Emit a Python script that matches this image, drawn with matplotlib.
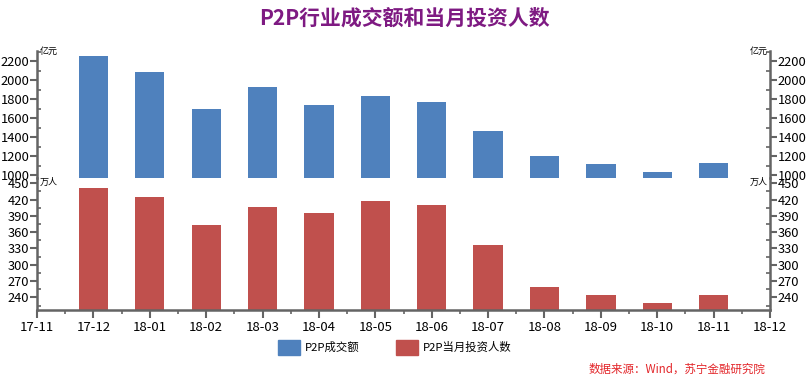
import matplotlib
matplotlib.use("Agg")
import matplotlib.pyplot as plt
from matplotlib.patches import Patch
from matplotlib.ticker import MultipleLocator

plt.rcParams['font.family'] = ['Noto Sans CJK SC', 'DejaVu Sans']

months = ['17-11', '17-12', '18-01', '18-02', '18-03', '18-04', '18-05',
          '18-06', '18-07', '18-08', '18-09', '18-10', '18-11', '18-12']
bar_months = months[1:13]
volume = [2253, 2084, 1695, 1926, 1737, 1832, 1768, 1463, 1200, 1116, 1032, 1126]
investors = [441, 424, 373, 406, 395, 417, 410, 336, 260, 244, 229, 244]

blue = '#4F81BD'
red = '#C0504D'
axis_col = '#646464'

fig = plt.figure(figsize=(8.08, 3.81), dpi=100)
left, right = 0.0458, 0.953
ax1 = fig.add_axes([left, 0.534, right - left, 0.332])
ax2 = fig.add_axes([left, 0.186, right - left, 0.347])

x = list(range(1, len(bar_months) + 1))
ax1.bar(x, volume, width=0.52, color=blue)
ax2.bar(x, investors, width=0.52, color=red)

ax1.set_ylim(974, 2305)
ax2.set_ylim(216.6, 459.8)
for ax in (ax1, ax2):
    ax.set_xlim(0, 13)
    for s in ('top', 'bottom'):
        ax.spines[s].set_visible(False)
    for s in ('left', 'right'):
        ax.spines[s].set_color(axis_col)
        ax.spines[s].set_linewidth(1.8)
    ax.tick_params(axis='y', which='major', direction='out', length=5, width=1.5,
                   color=axis_col, labelsize=9.3, left=True, right=True,
                   labelleft=True, labelright=True, pad=0.5)
    ax.tick_params(axis='y', which='minor', direction='in', length=3, width=1.2,
                   color=axis_col, left=True, right=True)
    ax.patch.set_alpha(0)

ax1.yaxis.set_minor_locator(MultipleLocator(100))
ax1.set_yticks(range(1000, 2201, 200))
ax1.set_xticks([])

ax2.set_yticks(range(240, 451, 30))
ax2.yaxis.set_minor_locator(MultipleLocator(15))
ax2.spines['bottom'].set_visible(True)
ax2.spines['bottom'].set_color(axis_col)
ax2.spines['bottom'].set_linewidth(1.8)
ax2.set_xticks(range(len(months)))
ax2.set_xticklabels(months)
ax2.set_xticks([i + 0.5 for i in range(len(months) - 1)], minor=True)
ax2.tick_params(axis='x', which='major', direction='out', length=6, width=1.5,
                color=axis_col, labelsize=9.5, pad=1.5)
ax2.tick_params(axis='x', which='minor', direction='out', length=3, width=1.2,
                color=axis_col)

# unit labels
fig.text(left + 0.003, 0.866, '亿元', fontsize=6.5, ha='left', va='center')
fig.text(right - 0.003, 0.866, '亿元', fontsize=6.5, ha='right', va='center')
fig.text(left + 0.003, 0.522, '万人', fontsize=6.5, ha='left', va='center')
fig.text(right - 0.003, 0.522, '万人', fontsize=6.5, ha='right', va='center')

fig.text(0.5, 0.952, 'P2P行业成交额和当月投资人数', fontsize=15, fontweight='bold',
         color='#7E1A82', ha='center', va='center')

handles = [Patch(color=blue, label='P2P成交额'), Patch(color=red, label='P2P当月投资人数')]
fig.legend(handles=handles, loc='center left', bbox_to_anchor=(0.344, 0.088), ncol=2,
           frameon=False, fontsize=8.2, handlelength=1.95, handleheight=1.6,
           columnspacing=3.2, handletextpad=0.4, borderpad=0, borderaxespad=0)

fig.text(0.947, 0.03, '数据来源：Wind，苏宁金融研究院', fontsize=8.3, color='#E3262A',
         ha='right', va='center', style='italic')

fig.savefig('out.png', dpi=100)
